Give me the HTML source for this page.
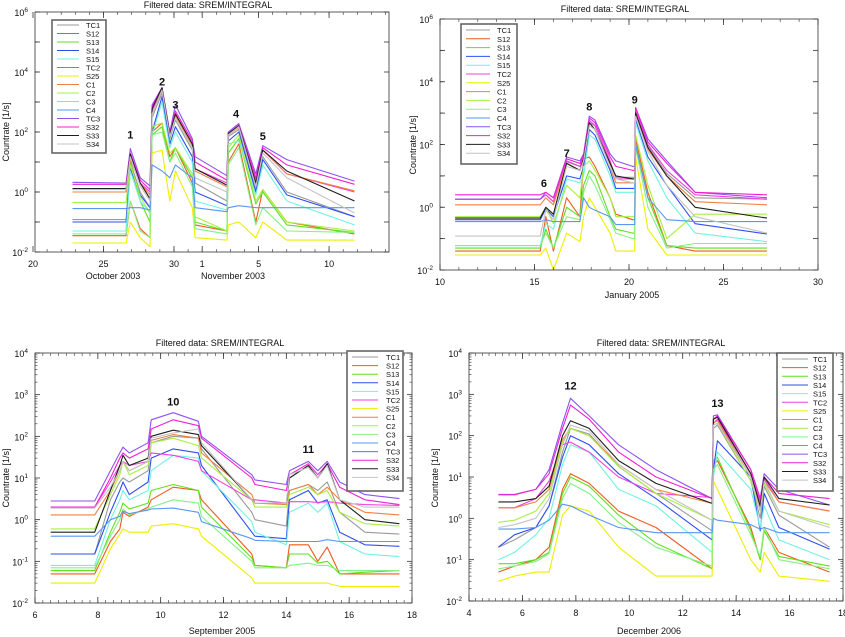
<!DOCTYPE html>
<html><head><meta charset="utf-8"><style>
html,body{margin:0;padding:0;background:#fff;}
svg{display:block;font-family:"Liberation Sans",sans-serif;}
</style></head><body>
<svg id="chart" width="845" height="637" viewBox="0 0 845 637" xmlns="http://www.w3.org/2000/svg"></svg>
<script>
const seriesNames = ["TC1","S12","S13","S14","S15","TC2","S25","C1","C2","C3","C4","TC3","S32","S33","S34"];
const seriesColors = ["#9a9a9a","#f05a1e","#5fe01e","#2f4ff0","#6ff2e2","#f040e0","#eeee00","#f08040","#a6f040","#86f086","#5a96f2","#8f52f0","#f020d0","#1e1e1e","#c4c4c4"];

// Panel 1: October/November 2003 (days since Oct 20)
const p1Times = [2.8,6.6,6.9,7.6,8.3,8.45,9.15,9.7,10.1,11.3,11.5,13.75,13.85,14.6,15.8,16.3,18,22.8];
const p1TC1 = [0.12,0.12,10,1,0.3,300,2000,60,250,25,2,0.5,70,120,1.2,15,1,0.15];
const p1S12 = [0.035,0.035,0.5,0.06,0.03,100,200,15,30,2,0.08,0.05,10,40,0.1,1.2,0.1,0.04];
const p1S13 = [0.05,0.05,10,0.5,0.1,80,150,10,30,3,0.1,0.05,20,60,0.4,1.0,0.08,0.045];
const p1S14 = [0.1,0.1,6,0.8,0.3,100,1500,40,150,15,1,0.35,50,100,1,12,0.8,0.15];
const p1S15 = [0.05,0.05,5,0.5,0.2,80,1000,30,100,10,0.5,0.25,40,50,0.8,8,0.5,0.08];
const p1TC2 = [1.0,1.0,15,2,1,500,2500,80,400,40,6,2,90,150,2.5,25,4,1.0];
const p1S25 = [0.02,0.02,0.1,0.03,0.015,20,25,0.5,5,0.3,0.03,0.025,0.08,0.1,0.03,0.1,0.025,0.025];
const p1C1 = [1.0,1.0,12,2,0.8,400,2500,70,350,35,5,1.5,80,140,2,25,4,1.1];
const p1C2 = [0.45,0.45,8,0.7,0.2,150,200,20,30,4,0.15,0.05,30,80,0.5,1.2,0.1,0.05];
const p1C3 = [0.04,0.04,0.5,0.05,0.03,80,100,10,20,1.5,0.06,0.04,8,30,0.08,0.3,0.05,0.045];
const p1C4 = [0.28,0.28,0.3,0.3,0.25,8,5,3,8,3,0.3,0.22,0.3,0.35,0.3,0.3,0.3,0.3];
const p1TC3 = [2.1,2,28,3,1.6,800,3000,100,800,60,15,3.5,100,190,4,35,12,2.3];
const p1S32 = [1.8,1.8,20,2.5,1.2,700,3000,90,500,50,10,2.5,90,170,3,30,8,1.8];
const p1S33 = [1.3,1.3,18,2,0.6,600,3000,80,400,40,6,1.7,90,160,2,25,5,0.5];
const p1S34 = [1.2,1.2,15,1.6,0.5,400,2500,70,300,30,3,1,80,150,1.5,20,3,0.2];

// Panel 2: January 2005
const p2Times = [10.8,15.3,15.6,16.0,16.7,17.4,17.6,17.9,18.2,19.0,19.3,20.2,20.3,20.35,21.0,22.0,23.5,27.3];
const p2TC1 = [1.8,1.8,2.5,1.5,28,20,40,500,400,30,9,9,9,1100,90,12,2,1.8];
const p2S12 = [0.04,0.04,0.5,0.04,2,0.5,35,40,20,2,0.6,0.4,0.4,150,3,0.06,0.04,0.04];
const p2S13 = [0.05,0.05,0.2,0.05,1,0.5,5,15,10,0.5,0.2,0.15,0.15,100,2,0.06,0.05,0.05];
const p2S14 = [0.4,0.4,0.9,0.5,10,8,20,300,200,15,4,4,4,600,40,5,0.3,0.14];
const p2S15 = [0.06,0.06,0.3,0.2,8,6,10,200,150,10,3,3,3,500,30,2,0.15,0.08];
const p2TC2 = [1.8,1.8,2.5,1.5,30,20,40,600,400,30,8,8,8,1200,100,15,2.5,1.8];
const p2S25 = [0.03,0.03,0.05,0.01,0.15,0.08,0.5,2,1,0.15,0.04,0.04,0.04,40,0.2,0.03,0.03,0.03];
const p2C1 = [1.2,1.2,2,1.2,25,15,30,400,300,20,6,6,6,1000,70,10,1.5,1.2];
const p2C2 = [0.5,0.5,1,0.3,5,2,20,30,15,2,0.5,0.5,0.5,200,5,0.1,0.6,0.6];
const p2C3 = [0.06,0.06,0.15,0.05,0.5,0.4,3,10,5,0.4,0.15,0.1,0.1,80,1,0.05,0.07,0.07];
const p2C4 = [0.35,0.35,0.4,0.35,0.35,0.35,2,1,0.8,0.5,0.28,0.28,0.28,100,2,0.4,0.35,0.35];
const p2TC3 = [1.8,1.8,3,2,40,30,50,800,600,50,30,20,20,1500,150,30,3,2];
const p2S32 = [2.5,2.5,3,2,35,25,45,700,500,40,20,15,15,1500,120,25,3,2.5];
const p2S33 = [0.45,0.45,1,0.6,25,15,35,500,300,25,10,8,8,1000,80,10,1,0.45];
const p2S34 = [0.12,0.12,0.8,0.4,20,15,30,400,300,20,8,6,6,800,60,5,0.5,0.15];

// Panel 3: September 2005
const p3Times = [6.5,7.9,8.4,8.7,8.8,9.0,9.6,9.7,10.4,11.2,11.3,12.9,13.0,14.0,14.1,14.7,15.0,15.3,15.7,16.5,17.6];
const p3TC1 = [0.15,0.15,3,8,10,8,15,70,100,90,50,1.5,1,0.7,5,7,5,8,1.5,0.5,0.45];
const p3S12 = [0.05,0.05,0.3,0.6,1.5,1.2,2,3,6,5,3,0.15,0.08,0.07,0.25,0.25,0.1,0.22,0.05,0.05,0.05];
const p3S13 = [0.06,0.06,0.5,1.5,2.5,1.8,2.5,5,7,5,2,0.12,0.08,0.07,0.15,0.15,0.09,0.1,0.05,0.055,0.06];
const p3S14 = [0.15,0.15,1.5,5,8,4,8,30,50,40,20,0.5,0.4,0.35,3,5,2.5,3,0.5,0.25,0.23];
const p3S15 = [0.08,0.08,1,3,5,3,5,15,35,30,15,0.9,0.5,0.25,1.5,2.5,1.5,2.5,0.3,0.15,0.13];
const p3TC2 = [2,2,8,20,25,20,25,40,35,25,15,3,3,2.5,2.7,2.7,2.6,2.7,2.5,2.3,2.2];
const p3S25 = [0.03,0.03,0.2,0.45,0.6,0.5,0.5,0.7,0.8,0.6,0.4,0.04,0.03,0.03,0.03,0.03,0.03,0.03,0.025,0.025,0.025];
const p3C1 = [1.3,1.3,5,15,25,15,25,80,110,90,40,4,2.5,2.3,5,7,4,6,3,1.5,1.3];
const p3C2 = [0.6,0.6,4,12,25,12,20,70,90,60,30,3,2,2,4,6,4,5,1.5,0.8,0.7];
const p3C3 = [0.07,0.07,0.4,1,1.8,1.3,1.8,2,3,2.5,1.2,0.1,0.07,0.07,0.08,0.09,0.08,0.08,0.06,0.06,0.06];
const p3C4 = [0.4,0.4,1,1.2,1.6,1.4,1.7,1.8,1.9,1.5,0.9,0.35,0.32,0.3,0.3,0.3,0.3,0.33,0.3,0.3,0.3];
const p3TC3 = [2.8,2.8,15,40,55,40,70,250,370,230,100,12,9,7,15,25,15,25,8,4,3.2];
const p3S32 = [2,2,10,30,40,30,50,150,250,180,90,10,7,5,12,22,12,22,6,3,2.3];
const p3S33 = [0.5,0.5,5,20,35,20,30,100,140,110,60,3,2.5,2.5,10,20,10,22,3,1,0.8];
const p3S34 = [1.9,1.9,6,15,25,15,25,90,120,150,70,3,2.5,2.5,12,18,10,20,3,2,2];

// Panel 4: December 2006
const p4Times = [5.1,5.7,6.5,7.0,7.5,7.8,8.5,9.6,11,13.1,13.15,13.3,14.55,14.9,15.05,15.6,17.5];
const p4TC1 = [0.2,0.3,0.6,2,40,150,110,18,4,0.5,150,180,8,1,6,1.2,0.2];
const p4S12 = [0.05,0.07,0.1,0.2,5,12,7,1.5,0.6,0.06,20,25,0.6,0.1,0.6,0.15,0.05];
const p4S13 = [0.08,0.08,0.1,0.15,4,10,6,1.2,0.25,0.06,25,30,0.5,0.1,0.5,0.12,0.07];
const p4S14 = [0.2,0.4,0.6,2,30,100,60,12,3,0.3,15,75,10,0.5,4,0.6,0.18];
const p4S15 = [0.1,0.15,0.4,1,20,60,40,5,2,0.15,10,40,5,0.6,2,0.3,0.1];
const p4TC2 = [1.8,1.8,3,8,60,70,40,10,4,3.2,200,250,12,2.5,9,2.5,1.5];
const p4S25 = [0.03,0.04,0.05,0.05,1.2,2,1.5,0.2,0.04,0.04,8,5,0.1,0.05,0.15,0.04,0.03];
const p4C1 = [1.8,1.8,2.5,5,80,150,100,20,5,2.3,200,230,10,1.8,8,2.5,1.5];
const p4C2 = [0.8,0.9,1.5,4,70,150,100,18,4,0.9,180,200,8,1.5,7,1.5,0.7];
const p4C3 = [0.06,0.07,0.09,0.14,3,7,4,0.8,0.2,0.07,15,20,0.4,0.12,0.6,0.1,0.06];
const p4C4 = [0.55,0.55,0.6,0.9,2.2,2,1.2,0.6,0.45,0.45,1,0.9,0.7,0.55,0.6,0.45,0.45];
const p4TC3 = [3.8,3.8,5,15,200,800,300,60,15,3,300,320,15,3,12,5,2.1];
const p4S32 = [3.7,3.7,5,12,150,550,250,40,10,3,250,300,15,3,10,4,3];
const p4S33 = [2.5,2.5,3,6,100,230,150,25,7,2.3,250,280,12,2,10,3,2.1];
const p4S34 = [0.6,0.7,1,3,60,180,130,20,5,0.9,180,200,10,1.5,8,1.5,0.6];

const p1XTicks = [0,5,10,12,16,21];
const p1XLabels = ["20","25","30","1","5","10"];
const p2XTicks = [10,15,20,25,30];
const p3XTicks = [6,8,10,12,14,16,18];
const p4XTicks = [4,6,8,10,12,14,16,18];
const p1Events = ["1","2","3","4","5"];
const p1EventT = [6.9,9.15,10.1,14.4,16.3];
const p1EventV = [60,3500,600,300,55];
const p2Events = ["6","7","8","9"];
const p2EventT = [15.5,16.7,17.9,20.3];
const p2EventV = [4.5,40,1200,2000];
const p3Events = ["10","11"];
const p3EventT = [10.4,14.7];
const p3EventV = [550,40];
const p4Events = ["12","13"];
const p4EventT = [7.8,13.3];
const p4EventV = [1300,500];

const NS="http://www.w3.org/2000/svg";
const svg=document.getElementById('chart');
function mk(tag,attrs,parent){const e=document.createElementNS(NS,tag);for(const k in attrs)e.setAttribute(k,attrs[k]);(parent||svg).appendChild(e);return e;}

const panels=[
 {id:1,times:p1Times,data:[p1TC1,p1S12,p1S13,p1S14,p1S15,p1TC2,p1S25,p1C1,p1C2,p1C3,p1C4,p1TC3,p1S32,p1S33,p1S34],
  x0:35,x1:389,t0:0.142,t1:25.25,y0:12,y1:252,dMin:-2,dMax:6,labelStep:2,
  xt:p1XTicks,xl:p1XLabels,minorX:1,minorStart:0,ev:p1Events,evT:p1EventT,evV:p1EventV,
  title:[208,8],xtitles:[["October 2003",113,279],["November 2003",233,279]],ytitle:[9,132],
  leg:{x:52,y:20,w:54,h:133,first:25,step:8.5,lx0:57,lx1:79,tx:86}},
 {id:2,times:p2Times,data:[p2TC1,p2S12,p2S13,p2S14,p2S15,p2TC2,p2S25,p2C1,p2C2,p2C3,p2C4,p2TC3,p2S32,p2S33,p2S34],
  x0:440,x1:818,t0:10,t1:30,y0:19,y1:270,dMin:-2,dMax:6,labelStep:2,
  xt:p2XTicks,xl:null,minorX:1,minorStart:10,ev:p2Events,evT:p2EventT,evV:p2EventV,
  title:[625,12],xtitles:[["January 2005",632,298]],ytitle:[416,145],
  leg:{x:461,y:24,w:56,h:140,first:30,step:8.8,lx0:466,lx1:490,tx:497}},
 {id:3,times:p3Times,data:[p3TC1,p3S12,p3S13,p3S14,p3S15,p3TC2,p3S25,p3C1,p3C2,p3C3,p3C4,p3TC3,p3S32,p3S33,p3S34],
  x0:35,x1:412,t0:6,t1:18,y0:353,y1:603,dMin:-2,dMax:4,labelStep:1,
  xt:p3XTicks,xl:null,minorX:0.25,minorStart:6,ev:p3Events,evT:p3EventT,evV:p3EventV,
  title:[220,346],xtitles:[["September 2005",222,634]],ytitle:[9,478],
  leg:{x:347,y:351,w:56,h:140,first:357,step:8.6,lx0:352,lx1:378,tx:386}},
 {id:4,times:p4Times,data:[p4TC1,p4S12,p4S13,p4S14,p4S15,p4TC2,p4S25,p4C1,p4C2,p4C3,p4C4,p4TC3,p4S32,p4S33,p4S34],
  x0:469,x1:843,t0:4,t1:18,y0:353,y1:601,dMin:-2,dMax:4,labelStep:1,
  xt:p4XTicks,xl:null,minorX:0.25,minorStart:4,ev:p4Events,evT:p4EventT,evV:p4EventV,
  title:[661,346],xtitles:[["December 2006",649,634]],ytitle:[438,478],
  leg:{x:777,y:353,w:56,h:138,first:359,step:8.65,lx0:782,lx1:808,tx:813}}
];

panels.forEach(p=>{
  const X=t=>p.x0+(t-p.t0)/(p.t1-p.t0)*(p.x1-p.x0);
  const Y=v=>p.y1-(Math.log10(v)-p.dMin)/(p.dMax-p.dMin)*(p.y1-p.y0);
  const g=mk('g',{});
  
  
  const cp=mk('clipPath',{id:'clip'+p.id},g);
  mk('rect',{x:p.x0,y:p.y0,width:p.x1-p.x0,height:p.y1-p.y0},cp);
  // title
  const ti=mk('text',{x:p.title[0],y:p.title[1],'font-size':9,'text-anchor':'middle',fill:'#111'},g);
  ti.textContent='Filtered data:  SREM/INTEGRAL';
  
  
  // series
  const sg=mk('g',{'clip-path':'url(#clip'+p.id+')'},g);
  p.data.forEach((arr,i)=>{
    const pts=arr.map((v,j)=>X(p.times[j]).toFixed(1)+','+Y(v).toFixed(1)).join(' ');
    const pl=mk('polyline',{points:pts,fill:'none',stroke:seriesColors[i],'stroke-width':1.1,'stroke-linejoin':'round'},sg);
    
    
  });
  // frame
  const fr=mk('rect',{x:p.x0,y:p.y0,width:p.x1-p.x0,height:p.y1-p.y0,fill:'none',stroke:'#333','stroke-width':0.8},g);
  
  
  // y ticks
  for(let d=p.dMin;d<=p.dMax;d++){
    const y=Y(Math.pow(10,d));
    mk('line',{x1:p.x0,x2:p.x0+5,y1:y,y2:y,stroke:'#333','stroke-width':0.8},g);
    mk('line',{x1:p.x1,x2:p.x1-5,y1:y,y2:y,stroke:'#333','stroke-width':0.8},g);
    if((d-p.dMin)%p.labelStep===0){
      const t=mk('text',{x:p.x0-7,y:y+4,'font-size':9,'text-anchor':'end',fill:'#111'},g);
      
      
      t.textContent='10';
      const s=mk('tspan',{dy:-4,'font-size':6.5},t);s.textContent=String(d);
    }
    if(d<p.dMax&&p.labelStep===2){
      const ym=Y(Math.pow(10,d+1));
      mk('line',{x1:p.x0,x2:p.x0+3,y1:ym,y2:ym,stroke:'#333','stroke-width':0.8},g);
    }
    if(d<p.dMax&&p.labelStep===1){
      for(let m=2;m<10;m++){const ym=Y(m*Math.pow(10,d));
        mk('line',{x1:p.x0,x2:p.x0+2.5,y1:ym,y2:ym,stroke:'#333','stroke-width':0.6},g);
        mk('line',{x1:p.x1,x2:p.x1-2.5,y1:ym,y2:ym,stroke:'#333','stroke-width':0.6},g);}
    }
  }
  // x minor ticks
  for(let t=p.minorStart;t<=p.t1+1e-6;t+=p.minorX){
    if(t<p.t0-1e-6)continue;const x=X(t);
    mk('line',{x1:x,x2:x,y1:p.y1,y2:p.y1-3,stroke:'#333','stroke-width':0.6},g);
    mk('line',{x1:x,x2:x,y1:p.y0,y2:p.y0+3,stroke:'#333','stroke-width':0.6},g);
  }
  p.xt.forEach((t,i)=>{
    const x=X(t);
    mk('line',{x1:x,x2:x,y1:p.y1,y2:p.y1-6,stroke:'#333','stroke-width':0.8},g);
    mk('line',{x1:x,x2:x,y1:p.y0,y2:p.y0+6,stroke:'#333','stroke-width':0.8},g);
    const tx=mk('text',{x:x,y:p.y1+15,'font-size':9,'text-anchor':'middle',fill:'#111'},g);
    
    
    tx.textContent=p.xl?p.xl[i]:String(t);
  });
  p.xtitles.forEach(a=>{
    const t=mk('text',{x:a[1],y:a[2],'font-size':9,'text-anchor':'middle',fill:'#111'},g);
    
    
    t.textContent=a[0];
  });
  const yt=mk('text',{x:p.ytitle[0],y:p.ytitle[1],'font-size':9,'text-anchor':'middle',fill:'#111',transform:'rotate(-90 '+p.ytitle[0]+' '+p.ytitle[1]+')'},g);
  
  
  yt.textContent='Countrate [1/s]';
  // event labels
  p.ev.forEach((e,i)=>{
    const t=mk('text',{x:X(p.evT[i]),y:Y(p.evV[i]),'font-size':11,'font-weight':'bold','text-anchor':'middle',fill:'#111'},g);
    
    
    t.textContent=e;
  });
  // legend
  const L=p.leg;
  const lg=mk('g',{},g);
  
  
  mk('rect',{x:L.x,y:L.y,width:L.w,height:L.h,fill:'#fff',stroke:'#666','stroke-width':1.6},lg);
  seriesNames.forEach((n,i)=>{
    const y=L.first+i*L.step;
    const it=mk('g',{},lg);
    
    
    mk('line',{x1:L.lx0,x2:L.lx1,y1:y,y2:y,stroke:seriesColors[i],'stroke-width':1},it);
    const t=mk('text',{x:L.tx,y:y+3,'font-size':7.5,fill:'#111'},it);
    t.textContent=n;
  });
});
</script>
</body></html>
